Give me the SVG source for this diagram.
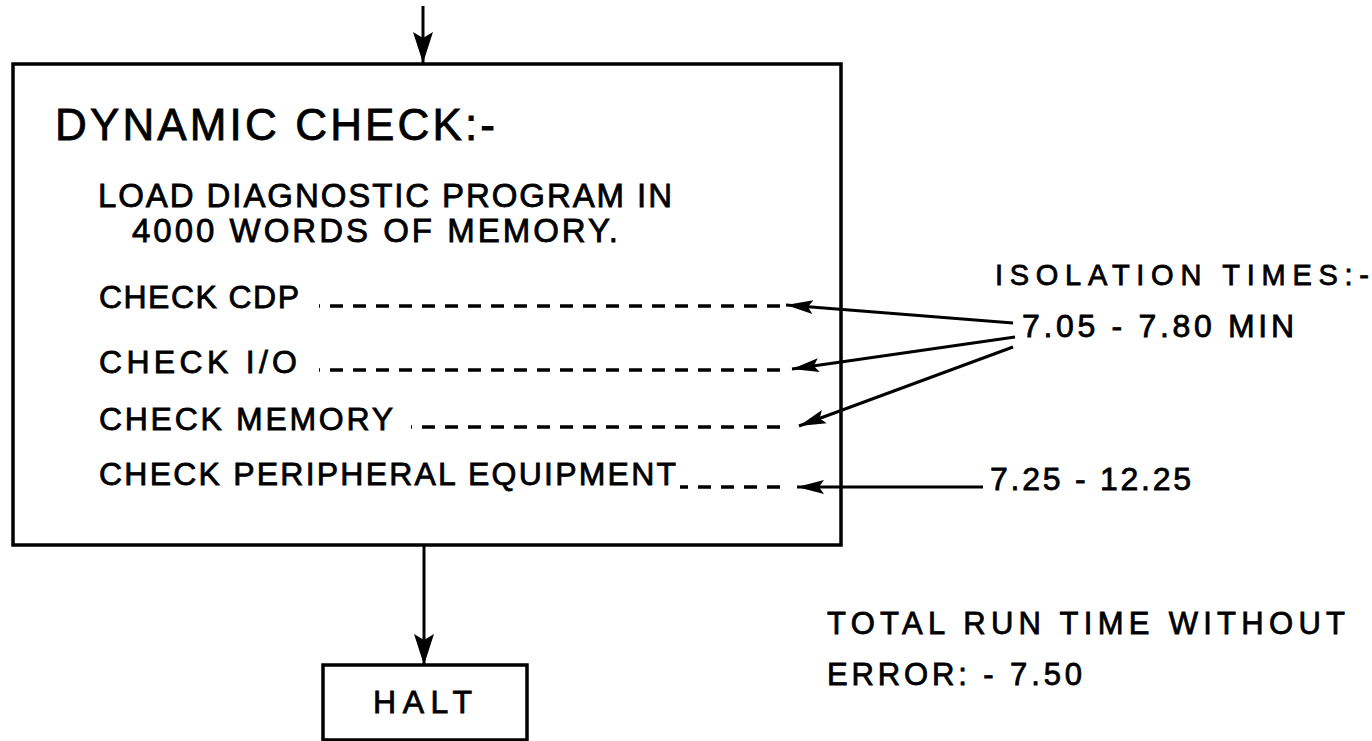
<svg xmlns="http://www.w3.org/2000/svg" width="1372" height="741" viewBox="0 0 1372 741">
  <style>
    .box { fill: none; stroke: #000; stroke-width: 3.5; }
    .txt { font-family: "Liberation Sans", Arial, sans-serif; fill: #000; stroke: #000; stroke-width: 0.8; }
    .arrow { stroke: #000; stroke-width: 3; fill: none; marker-end: url(#headSmall); }
    .flow { stroke: #000; stroke-width: 3; fill: none; marker-end: url(#headBig); }
    .dash { stroke: #000; stroke-width: 3.5; fill: none; stroke-dasharray: 13 10; }
  </style>
  <defs>
    <marker id="headBig" markerUnits="userSpaceOnUse" viewBox="0 -11 32 22" markerWidth="32" markerHeight="22" refX="31" refY="0" orient="auto">
      <path d="M0,-10 L31,0 L0,10 L6,0 Z" fill="#000"/>
    </marker>
    <marker id="headSmall" markerUnits="userSpaceOnUse" viewBox="0 -8 28 16" markerWidth="28" markerHeight="16" refX="27" refY="0" orient="auto">
      <path d="M0,-7 L27,0 L0,7 L5,0 Z" fill="#000"/>
    </marker>
  </defs>

  <g id="connectors">
    <line class="flow" x1="423" y1="6" x2="423" y2="63"/>
    <line class="flow" x1="424" y1="545" x2="424" y2="665"/>
    <line class="dash" x1="780" y1="306" x2="319" y2="306"/>
    <line class="dash" x1="780" y1="370" x2="319" y2="370"/>
    <line class="dash" x1="780" y1="427" x2="411" y2="427"/>
    <line class="dash" x1="780" y1="487" x2="680" y2="487"/>
    <line class="arrow" x1="1013" y1="323" x2="786" y2="305"/>
    <line class="arrow" x1="1015" y1="337" x2="792" y2="369"/>
    <line class="arrow" x1="1013" y1="347" x2="799" y2="426"/>
    <line class="arrow" x1="983" y1="487" x2="797" y2="487"/>
  </g>

  <g id="node-dynamic-check">
    <rect class="box" x="13" y="64" width="828" height="481"/>
    <text class="txt" x="55" y="140" font-size="44" textLength="440" lengthAdjust="spacing">DYNAMIC CHECK:-</text>
    <text class="txt" x="98" y="207" font-size="33" textLength="574" lengthAdjust="spacing">LOAD DIAGNOSTIC PROGRAM IN</text>
    <text class="txt" x="132" y="242" font-size="33" textLength="486" lengthAdjust="spacing">4000 WORDS OF MEMORY.</text>
    <text class="txt" x="99" y="308" font-size="32" textLength="200" lengthAdjust="spacing">CHECK CDP</text>
    <text class="txt" x="99" y="373" font-size="32" textLength="198" lengthAdjust="spacing">CHECK I/O</text>
    <text class="txt" x="99" y="430" font-size="32" textLength="294" lengthAdjust="spacing">CHECK MEMORY</text>
    <text class="txt" x="99" y="485" font-size="32" textLength="577" lengthAdjust="spacing">CHECK PERIPHERAL EQUIPMENT</text>
  </g>

  <g id="node-halt">
    <rect class="box" x="323" y="665" width="204" height="75"/>
    <text class="txt" x="373" y="713" font-size="32" textLength="99" lengthAdjust="spacing">HALT</text>
  </g>

  <g id="label-isolation">
    <text class="txt" x="995" y="285" font-size="29" textLength="374" lengthAdjust="spacing">ISOLATION TIMES:-</text>
    <text class="txt" x="1022" y="337" font-size="32" textLength="272" lengthAdjust="spacing">7.05 - 7.80 MIN</text>
    <text class="txt" x="990" y="490" font-size="32" textLength="201" lengthAdjust="spacing">7.25 - 12.25</text>
  </g>

  <g id="label-total">
    <text class="txt" x="827" y="634" font-size="31" textLength="518" lengthAdjust="spacing">TOTAL RUN TIME WITHOUT</text>
    <text class="txt" x="827" y="685" font-size="31" textLength="255" lengthAdjust="spacing">ERROR: - 7.50</text>
  </g>
</svg>
